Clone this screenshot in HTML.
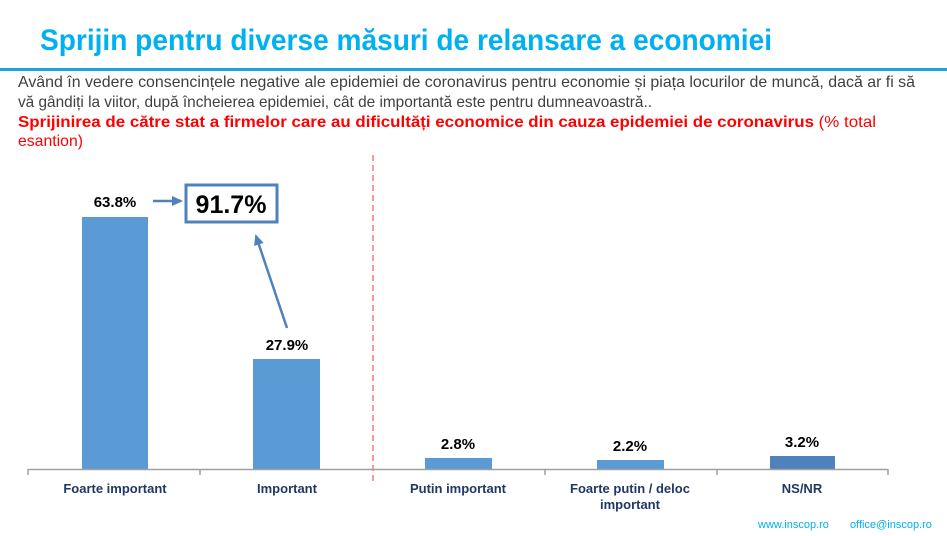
<!DOCTYPE html>
<html><head><meta charset="utf-8"><style>
html,body{margin:0;padding:0;background:#fff;}
svg{display:block;font-family:"Liberation Sans",sans-serif;}
</style></head><body>
<svg width="947" height="536" viewBox="0 0 947 536" xmlns="http://www.w3.org/2000/svg">
<defs><marker id="ah" markerWidth="11" markerHeight="10" refX="9" refY="5" orient="auto" markerUnits="userSpaceOnUse"><path d="M0,0 L11,5 L0,10 z" fill="#4f81bd"/></marker></defs>
<text x="40" y="50" font-size="30" font-weight="bold" fill="#00b0f0" textLength="732" lengthAdjust="spacingAndGlyphs">Sprijin pentru diverse măsuri de relansare a economiei</text>
<rect x="0" y="68" width="947" height="3" fill="#1aa3e0"/>
<text x="18" y="87" font-size="16" fill="#404040" textLength="897" lengthAdjust="spacingAndGlyphs">Având în vedere consencințele negative ale epidemiei de coronavirus pentru economie și piața locurilor de muncă, dacă ar fi să</text>
<text x="18" y="107" font-size="16" fill="#404040" textLength="634" lengthAdjust="spacingAndGlyphs">vă gândiți la viitor, după încheierea epidemiei, cât de importantă este pentru dumneavoastră..</text>
<text x="18" y="127" font-size="16" fill="#ff0000" textLength="858" lengthAdjust="spacingAndGlyphs"><tspan font-weight="bold">Sprijinirea de către stat a firmelor care au dificultăți economice din cauza epidemiei de coronavirus</tspan> (% total</text>
<text x="18" y="146" font-size="16" fill="#ff0000" textLength="65" lengthAdjust="spacingAndGlyphs">esantion)</text>
<line x1="373" y1="155" x2="373" y2="482" stroke="#ff3333" stroke-width="1" stroke-dasharray="6,4"/>
<g fill="#5b9bd5">
<rect x="82" y="217" width="66" height="252"/>
<rect x="253" y="359" width="67" height="110"/>
<rect x="425" y="458" width="67" height="11"/>
<rect x="597" y="460" width="67" height="9"/>
<rect x="770" y="456" width="65" height="13" fill="#4f81bd"/>
</g>
<g stroke="#a0a0a0" stroke-width="1.5">
<line x1="28" y1="469.5" x2="888" y2="469.5"/>
<line x1="28" y1="469" x2="28" y2="475"/><line x1="200" y1="469" x2="200" y2="475"/>
<line x1="545" y1="469" x2="545" y2="475"/><line x1="717" y1="469" x2="717" y2="475"/><line x1="888" y1="469" x2="888" y2="475"/>
</g>
<g font-size="15" font-weight="bold" fill="#000" text-anchor="middle">
<text x="115" y="207">63.8%</text><text x="287" y="350">27.9%</text>
<text x="458" y="449">2.8%</text><text x="630" y="451">2.2%</text><text x="802" y="447">3.2%</text>
</g>
<rect x="186" y="185" width="91" height="37" fill="#fff" stroke="#4f81bd" stroke-width="3"/>
<text x="231" y="213" font-size="25" font-weight="bold" text-anchor="middle">91.7%</text>
<line x1="153" y1="201" x2="181" y2="201" stroke="#4f81bd" stroke-width="2.5" marker-end="url(#ah)"/>
<line x1="287" y1="328" x2="256" y2="236" stroke="#4f81bd" stroke-width="2.5" marker-end="url(#ah)"/>
<g font-size="13" font-weight="bold" fill="#1f3864" text-anchor="middle">
<text x="115" y="493">Foarte important</text><text x="287" y="493">Important</text>
<text x="458" y="493">Putin important</text><text x="630" y="493">Foarte putin / deloc</text>
<text x="630" y="509">important</text><text x="802" y="493">NS/NR</text>
</g>
<text x="758" y="528" font-size="11" fill="#00b0f0">www.inscop.ro</text>
<text x="850" y="528" font-size="11" fill="#00b0f0">office@inscop.ro</text>
</svg>
</body></html>
